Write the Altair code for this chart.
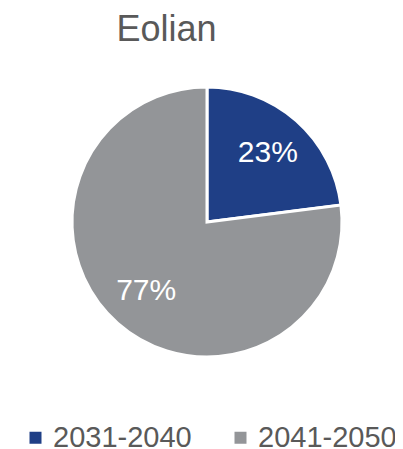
import altair as alt
import pandas as pd

categories = ["2031-2040", "2041-2050"]
values = [23, 77]
labels = ["23%", "77%"]
colors = ["#1F3F86", "#939598"]
title_text = "Eolian"

df = pd.DataFrame({"period": categories, "value": values, "label": labels, "order": [0, 1]})

W, H = 387, 383
cx, cy = 199, 164

base = alt.Chart(df).encode(
    theta=alt.Theta("value:Q", stack=True),
    order=alt.Order("order:Q"),
)

pie = base.mark_arc(stroke="white", strokeWidth=3).encode(
    color=alt.Color(
        "period:N",
        scale=alt.Scale(domain=categories, range=colors),
        legend=alt.Legend(
            title=None,
            orient="none",
            legendX=13,
            legendY=365,
            direction="horizontal",
            columns=2,
            padding=0,
            symbolType="square",
            symbolSize=144,
            symbolStrokeWidth=0,
            labelFont="Liberation Sans",
            labelFontSize=29,
            labelColor="#595959",
            labelOffset=3,
            columnPadding=34,
            labelLimit=300,
        ),
    ),
    x=alt.value(cx),
    y=alt.value(cy),
    radius=alt.value(135),
)

text = base.mark_text(
    radius=92, font="Liberation Sans", fontSize=30, color="white", align="center", baseline="middle"
).encode(
    text="label:N",
    x=alt.value(cx),
    y=alt.value(cy),
)

chart = (
    alt.layer(pie, text)
    .properties(
        width=W,
        height=H,
        autosize=alt.AutoSizeParams(type="none"),
        padding={"left": 0, "top": 50, "right": 0, "bottom": 12},
        title=alt.TitleParams(
            title_text,
            font="Liberation Sans",
            fontSize=36,
            fontWeight="normal",
            color="#595959",
            anchor="middle",
            dx=-35,
            offset=9,
        ),
    )
    .configure_view(stroke=None)
)

chart.save("out.html", embed_options={"renderer": "svg", "actions": False})
